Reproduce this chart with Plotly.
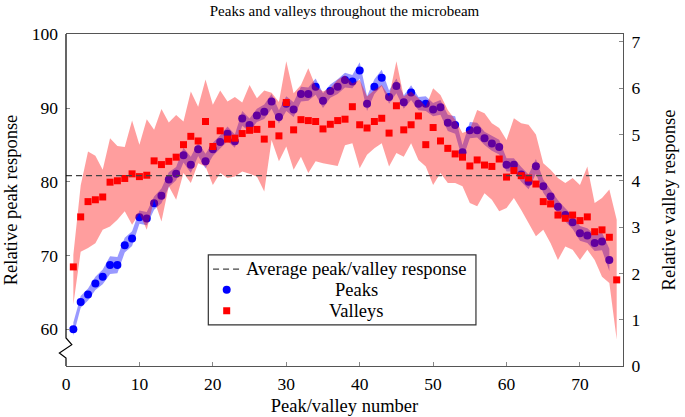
import plotly.graph_objects as go

# ---------------------------------------------------------------------------
# data
# ---------------------------------------------------------------------------

peak_x = list(range(1, 75))
peaks = [
    60.0, 63.7, 64.7, 66.2, 67.1, 68.7, 68.7, 71.4, 72.3, 75.2,
    75.0, 77.1, 78.1, 80.3, 81.1, 83.6, 82.3, 84.4, 82.8, 84.4,
    85.4, 86.5, 85.5, 88.6, 87.7, 89.0, 89.5, 90.9, 88.8, 90.6,
    89.8, 91.9, 91.9, 92.9, 91.0, 92.3, 92.9, 93.8, 93.6, 95.1,
    90.6, 92.9, 94.1, 91.5, 93.0, 90.8, 92.1, 90.6, 90.6, 89.8,
    90.1, 88.0, 87.7, 84.0, 87.0, 87.0, 85.9, 85.2, 84.7, 82.3,
    82.3, 81.0, 80.0, 82.1, 79.4, 78.0, 76.6, 75.5, 74.5, 73.0,
    72.7, 71.7, 71.9, 69.4,
]
peak_err = [
    0.9, 0.8, 0.8, 0.9, 1.0, 1.2, 1.1, 1.0, 1.0, 0.9,
    0.9, 0.9, 1.0, 1.0, 0.9, 1.0, 1.1, 0.9, 1.0, 0.9,
    0.9, 1.0, 0.9, 1.0, 0.9, 0.9, 1.0, 1.0, 0.9, 1.0,
    1.0, 1.0, 0.9, 1.1, 1.0, 0.9, 1.0, 1.0, 0.9, 1.1,
    1.0, 1.0, 1.1, 0.9, 1.0, 0.9, 1.0, 0.9, 1.0, 0.9,
    1.0, 1.1, 1.2, 1.0, 1.1, 1.0, 0.9, 1.0, 1.0, 0.9,
    0.9, 1.0, 1.0, 1.0, 0.9, 0.9, 0.9, 0.9, 0.9, 1.0,
    1.0, 1.1, 1.2, 1.5,
]

valley_x = list(range(1, 76))
valleys = [
    2.14, 3.22, 3.55, 3.59, 3.65, 3.97, 4.00, 4.05, 4.15, 4.09,
    4.12, 4.43, 4.35, 4.42, 4.51, 4.78, 4.96, 4.86, 5.28, 4.74,
    5.08, 4.90, 4.92, 5.02, 5.09, 5.11, 4.90, 5.22, 4.97, 5.69,
    5.10, 5.32, 5.30, 5.28, 5.12, 5.22, 5.30, 5.33, 5.60, 5.21,
    5.14, 5.28, 5.35, 5.03, 5.62, 5.10, 5.21, 5.40, 4.78, 5.15,
    4.86, 4.70, 4.58, 4.51, 4.32, 4.45, 4.34, 4.31, 4.47, 4.08,
    4.22, 4.11, 4.06, 3.93, 3.55, 3.50, 3.26, 3.19, 3.26, 3.14,
    3.22, 2.90, 2.94, 2.78, 1.86,
]
valley_hi = [
    2.40, 3.90, 4.63, 4.54, 4.24, 4.92, 4.75, 4.73, 5.30, 4.78,
    5.33, 5.10, 5.55, 5.26, 5.42, 5.28, 5.93, 5.60, 6.19, 5.64,
    5.95, 5.71, 5.81, 5.69, 6.07, 5.78, 5.95, 5.90, 5.70, 6.58,
    5.89, 6.07, 6.43, 6.04, 5.93, 6.00, 6.18, 6.28, 6.10, 6.18,
    5.82, 5.96, 6.07, 5.82, 6.58, 5.82, 5.93, 5.78, 5.60, 6.00,
    5.85, 5.53, 5.32, 5.03, 5.10, 5.53, 5.46, 5.24, 5.14, 4.88,
    5.35, 5.24, 5.21, 5.00, 4.38, 4.24, 4.06, 3.95, 4.06, 3.91,
    4.31, 3.52, 3.63, 3.81, 3.16,
]
valley_lo = [
    1.33, 2.47, 2.55, 2.65, 2.94, 3.01, 3.16, 3.34, 3.05, 3.30,
    2.94, 3.59, 3.12, 3.88, 3.59, 4.17, 3.95, 4.38, 4.31, 3.91,
    4.17, 4.06, 4.09, 4.20, 4.15, 4.09, 3.77, 4.88, 4.42, 4.74,
    4.24, 4.52, 4.17, 4.42, 4.38, 4.35, 4.32, 4.77, 4.81, 4.27,
    4.56, 4.70, 4.81, 4.31, 4.60, 4.52, 4.81, 4.45, 4.31, 3.91,
    4.17, 3.95, 3.95, 3.88, 3.52, 3.45, 3.73, 3.59, 3.34, 3.41,
    3.63, 3.37, 3.09, 2.80, 2.94, 2.65, 2.29, 2.58, 2.51, 2.29,
    2.51, 2.29, 1.93, 1.79, 0.57,
]

AVG_RESPONSE = 80.84   # dashed reference, left axis units

x_ticks = [0, 10, 20, 30, 40, 50, 60, 70]
y_ticks = [60, 70, 80, 90, 100]
y2_ticks = [0, 1, 2, 3, 4, 5, 6, 7]

FONT = "Liberation Serif"

# ---------------------------------------------------------------------------
# figure
# ---------------------------------------------------------------------------

fig = go.Figure()

peak_hi = [p + e for p, e in zip(peaks, peak_err)]
peak_lo = [p - e for p, e in zip(peaks, peak_err)]

# peaks: band + markers (left axis)
fig.add_trace(go.Scatter(x=peak_x, y=peak_hi, mode="lines",
                         line=dict(width=0), hoverinfo="skip"))
fig.add_trace(go.Scatter(x=peak_x, y=peak_lo, mode="lines",
                         line=dict(width=0), fill="tonexty",
                         fillcolor="rgba(0,0,255,0.4)", hoverinfo="skip"))
fig.add_trace(go.Scatter(x=peak_x, y=peaks, mode="markers", name="Peaks",
                         marker=dict(color="#0000ff", size=8, symbol="circle")))

# valleys: band + markers (right axis, drawn on top)
fig.add_trace(go.Scatter(x=valley_x, y=valley_hi, mode="lines", yaxis="y2",
                         line=dict(width=0), hoverinfo="skip"))
fig.add_trace(go.Scatter(x=valley_x, y=valley_lo, mode="lines", yaxis="y2",
                         line=dict(width=0), fill="tonexty",
                         fillcolor="rgba(255,0,0,0.38)", hoverinfo="skip"))
fig.add_trace(go.Scatter(x=valley_x, y=valleys, mode="markers", yaxis="y2",
                         name="Valleys",
                         marker=dict(color="#ff0000", size=7, symbol="square")))

# average response line
fig.add_shape(type="line", xref="paper", yref="y", x0=0, x1=1,
              y0=AVG_RESPONSE, y1=AVG_RESPONSE, layer="above",
              line=dict(color="#444444", width=1.2, dash="6px,4px"))

# left axis line with a break near the bottom
fig.add_shape(type="path", xref="paper", yref="paper", layer="above",
              path="M 0,1 L 0,0.0843 L 0.0104,0.0641 L -0.0119,0.0391 "
                   "L 0,0.0241 L 0,0",
              line=dict(color="black", width=1.2))

# legend box drawn by hand (text centred like the original)
fig.add_shape(type="rect", xref="paper", yref="paper", layer="above",
              x0=0.2555, x1=0.736, y0=0.124, y1=0.335,
              fillcolor="white", line=dict(color="#333333", width=1.2))
fig.add_shape(type="line", xref="paper", yref="paper", layer="above",
              x0=0.264, x1=0.312, y0=0.292, y1=0.292,
              line=dict(color="#444444", width=1.2, dash="6px,4px"))
fig.add_shape(type="circle", xref="paper", yref="paper", layer="above",
              xsizemode="pixel", ysizemode="pixel",
              xanchor=0.2885, yanchor=0.2296, x0=-4, x1=4, y0=-4, y1=4,
              fillcolor="#0000ff", line=dict(width=0))
fig.add_shape(type="rect", xref="paper", yref="paper", layer="above",
              xsizemode="pixel", ysizemode="pixel",
              xanchor=0.2885, yanchor=0.1664, x0=-3.5, x1=3.5, y0=-3.5, y1=3.5,
              fillcolor="#ff0000", line=dict(width=0))

legend_rows = [("Average peak/valley response", 0.292),
               ("Peaks", 0.2296),
               ("Valleys", 0.1664)]
for txt, yy in legend_rows:
    fig.add_annotation(text=txt, xref="paper", yref="paper", x=0.5215, y=yy,
                       showarrow=False, xanchor="center", yanchor="middle",
                       font=dict(size=18.5, family=FONT, color="black"))

# ---------------------------------------------------------------------------
# layout
# ---------------------------------------------------------------------------

fig.update_layout(
    width=685, height=417,
    margin=dict(l=66, r=62, t=34, b=51, autoexpand=False),
    plot_bgcolor="white", paper_bgcolor="white",
    font=dict(family=FONT, size=17.5, color="black"),
    showlegend=False,
    title=dict(text="Peaks and valleys throughout the microbeam",
               x=0.5, xref="paper", y=0.974, yanchor="middle",
               font=dict(size=15, family=FONT, color="black")),
    xaxis=dict(range=[0, 75.86], tickvals=x_ticks, ticks="inside", ticklen=4,
               tickcolor="#888888", showline=True, mirror=True,
               linecolor="#555555", linewidth=1.2, showgrid=False,
               zeroline=False, automargin=False, ticklabelstandoff=2,
               title=dict(text="Peak/valley number", standoff=5,
                          font=dict(size=18.5))),
    yaxis=dict(range=[55, 100.05], tickvals=y_ticks, ticks="inside",
               ticklen=4, tickcolor="#888888", showline=False,
               showgrid=False, zeroline=False, automargin=False,
               ticklabelstandoff=7,
               title=dict(text="Relative peak response", standoff=9,
                          font=dict(size=18.5))),
    yaxis2=dict(range=[0, 7.17], tickvals=y2_ticks, ticks="inside",
                ticklen=4, tickcolor="#888888", overlaying="y", side="right",
                showline=True, linecolor="#555555", linewidth=1.2,
                showgrid=False, zeroline=False, automargin=False,
                ticklabelstandoff=4,
                title=dict(text="Relative valley response", standoff=22,
                           font=dict(size=18.5))),
)

# the page has a default 8px body margin; remove it so the figure sits at 0,0
fig.write_html("out.html", config={"displayModeBar": False},
               post_script="document.body.style.margin='0px';")
